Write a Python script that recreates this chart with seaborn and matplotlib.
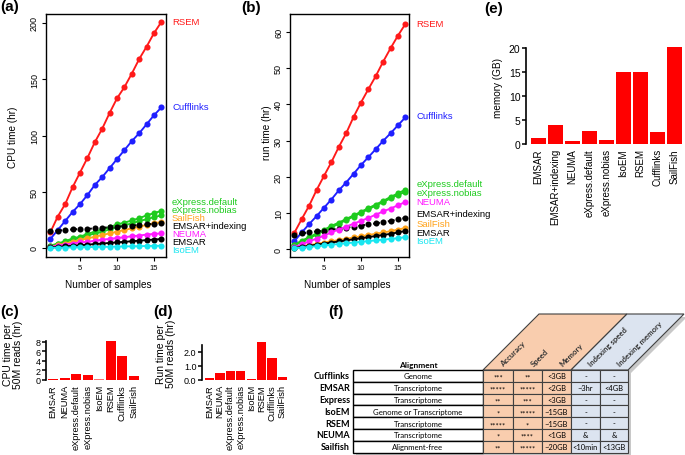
import matplotlib
matplotlib.use("Agg")
import matplotlib.pyplot as plt
import seaborn as sns
from matplotlib.patches import Rectangle, Polygon

sns.set_theme(style="ticks")
plt.rcParams["font.family"] = ["Liberation Sans", "DejaVu Sans"]
plt.rcParams.update({"axes.edgecolor": "black", "xtick.color": "black", "ytick.color": "black",
                     "text.color": "black", "axes.labelcolor": "black"})

# ---------------- data ----------------
samples = list(range(1, 17))
methods = ["RSEM", "Cufflinks", "eXpress.default", "eXpress.nobias", "SailFish",
           "EMSAR+indexing", "NEUMA", "EMSAR", "IsoEM"]

cpu_rsem = [14, 28, 39, 54, 67, 80, 94, 106, 120, 133, 143, 155, 168, 179, 191, 201]
cpu_cufflinks = [8, 16, 24, 32, 39, 47, 56, 63, 71, 79, 87, 95, 102, 110, 118, 125]
cpu_express_default = [2, 4, 6, 8.5, 10, 12.5, 14.5, 16.5, 18.5, 21, 22.5, 24.5, 26.5, 29, 31, 33]
cpu_express_nobias = [1.5, 3.5, 5, 7.5, 9, 11, 13, 14.5, 16.5, 18.5, 20, 22, 24, 25.5, 27.5, 29]
cpu_sailfish = [1, 2.5, 4, 5.5, 7, 8.5, 10, 11.5, 13, 14.5, 16, 17.5, 19, 20.5, 22, 23]
cpu_emsar_idx = [15, 15.5, 16, 16.5, 17, 17, 17.5, 18, 18.5, 19, 19.5, 20, 20.5, 21, 21.5, 22]
cpu_neuma = [1, 2, 3, 4, 5, 5.5, 6.5, 7.5, 8, 9, 9.5, 10.5, 11, 12, 12.5, 13]
cpu_emsar = [0.5, 1, 1.5, 2, 2.5, 3, 3.5, 4, 4.5, 5, 5.5, 6, 6.5, 7, 7.5, 8]
cpu_isoem = [0.1, 0.3, 0.4, 0.5, 0.6, 0.8, 0.9, 1.0, 1.1, 1.3, 1.4, 1.5, 1.6, 1.8, 1.9, 2.0]

run_rsem = [4.5, 8.3, 12, 16.3, 20.2, 24, 28.2, 32, 36.5, 40.5, 44.2, 47.8, 51.8, 55.5, 59, 62.2]
run_cufflinks = [2.2, 4.6, 6.9, 9.1, 11.4, 13.7, 16.2, 18.4, 20.8, 23.2, 25.4, 27.6, 29.9, 32.0, 34.2, 36.4]
run_express_default = [1.2, 2.3, 3.3, 4.3, 5.3, 6.4, 7.3, 8.3, 9.3, 10.3, 11.3, 12.3, 13.3, 14.4, 15.4, 16.4]
run_express_nobias = [1.0, 2.0, 3.0, 4.0, 5.0, 6.0, 7.0, 8.0, 9.0, 10.0, 11.0, 12.0, 13.0, 14.0, 15.0, 15.8]
run_sailfish = [0.4, 0.7, 1.1, 1.4, 1.8, 2.1, 2.5, 2.8, 3.2, 3.5, 3.9, 4.2, 4.6, 4.9, 5.4, 5.8]
run_emsar_idx = [4.0, 4.3, 4.6, 4.9, 5.1, 5.4, 5.6, 5.9, 6.2, 6.5, 6.8, 7.1, 7.4, 7.8, 8.2, 8.6]
run_neuma = [0.5, 1.3, 2.1, 2.9, 3.7, 4.6, 5.4, 6.2, 7.0, 7.8, 8.6, 9.5, 10.4, 11.2, 12.1, 13.0]
run_emsar = [0.3, 0.6, 0.9, 1.2, 1.5, 1.8, 2.1, 2.4, 2.7, 3.0, 3.3, 3.6, 3.9, 4.2, 4.6, 5.0]
run_isoem = [0.2, 0.4, 0.6, 0.8, 1.0, 1.2, 1.4, 1.6, 1.8, 2.0, 2.2, 2.4, 2.6, 2.8, 3.0, 3.3]

bar_methods_cd = ["EMSAR", "NEUMA", "eXpress.default", "eXpress.nobias", "IsoEM", "RSEM", "Cufflinks", "SailFish"]
cpu_per_50m = [0.3, 0.45, 1.3, 1.05, 0.15, 8.2, 5.0, 0.75]
run_per_50m = [0.15, 0.52, 0.67, 0.64, 0.1, 2.7, 1.57, 0.2]

mem_methods = ["EMSAR", "EMSAR+indexing", "NEUMA", "eXpress.default", "eXpress.nobias",
               "IsoEM", "RSEM", "Cufflinks", "SailFish"]
memory_gb = [1.2, 4.0, 0.7, 2.8, 0.75, 15.0, 15.1, 2.4, 20.2]

tbl_rows = ["Cufflinks", "EMSAR", "Express", "IsoEM", "RSEM", "NEUMA", "Sailfish"]
tbl_alignment = ["Genome", "Transcriptome", "Transcriptome", "Genome or Transcriptome",
                 "Transcriptome", "Transcriptome", "Alignment-free"]
tbl_accuracy = ["***", "*****", "**", "*", "*****", "*", "**"]
tbl_speed = ["**", "*****", "***", "*****", "*", "****", "*****"]
tbl_memory = ["<3GB", "<2GB", "<3GB", "~15GB", "~15GB", "<1GB", "~20GB"]
tbl_idx_speed = ["-", "~3hr", "-", "-", "-", "&", "<10min"]
tbl_idx_memory = ["-", "<4GB", "-", "-", "-", "&", "<13GB"]
tbl_headers = ["Accuracy", "Speed", "Memory", "Indexing speed", "Indexing memory"]

cpu = dict(zip(methods, [cpu_rsem, cpu_cufflinks, cpu_express_default, cpu_express_nobias, cpu_sailfish,
                         cpu_emsar_idx, cpu_neuma, cpu_emsar, cpu_isoem]))
run = dict(zip(methods, [run_rsem, run_cufflinks, run_express_default, run_express_nobias, run_sailfish,
                         run_emsar_idx, run_neuma, run_emsar, run_isoem]))

line_colors = {"RSEM": "#FF1A1A", "Cufflinks": "#1F1FFF", "eXpress.default": "#1ECB1E",
               "eXpress.nobias": "#1ECB1E", "SailFish": "#FFA31A", "EMSAR+indexing": "black",
               "NEUMA": "#FF1AFF", "EMSAR": "black", "IsoEM": "#19E6F0"}

# right-side label positions (data y) for panels a and b
lab_order_a = ["RSEM", "Cufflinks", "eXpress.default", "eXpress.nobias", "SailFish",
               "EMSAR+indexing", "NEUMA", "EMSAR", "IsoEM"]
lab_y_a = [201, 126, 41.5, 34.5, 27.5, 20, 12.5, 5.5, -1.5]
lab_order_b = ["RSEM", "Cufflinks", "eXpress.default", "eXpress.nobias", "NEUMA",
               "EMSAR+indexing", "SailFish", "EMSAR", "IsoEM"]
lab_y_b = [62.5, 36.8, 18.0, 15.5, 13.2, 9.7, 7.2, 4.7, 2.5]

# ---------------- figure ----------------
W, H = 685, 456
fig = plt.figure(figsize=(6.85, 4.56), dpi=100)


def box(l, t, r, b):
    return [l / W, 1 - b / H, (r - l) / W, (b - t) / H]


bg = fig.add_axes([0, 0, 1, 1])
bg.set_xlim(0, W)
bg.set_ylim(H, 0)
bg.axis("off")
bg.patch.set_alpha(0)


def line_panel(rect, data, xlim, ylim, yticks, lab_order, lab_y, lab_x):
    ax = fig.add_axes(box(*rect))
    for m in methods:
        sns.lineplot(x=samples, y=data[m], color=line_colors[m], marker="o", markersize=4.4,
                     markeredgewidth=0, linewidth=1.35,
                     linestyle=":" if m == "EMSAR+indexing" else "-", ax=ax)
    ax.set_xlim(*xlim)
    ax.set_ylim(*ylim)
    ax.set_xticks([5, 10, 15])
    ax.set_yticks(yticks)
    ax.tick_params(axis="x", labelsize=5.5, length=3, width=0.8, pad=2)
    ax.tick_params(axis="y", labelsize=6.5, length=3, width=0.8, pad=2, labelrotation=90)
    for t in ax.get_yticklabels():
        t.set_va("center")
    for s in ax.spines.values():
        s.set_linewidth(1.0)
    ax.set_xlabel("")
    ax.set_ylabel("")
    for m, y in zip(lab_order, lab_y):
        ax.text(lab_x, y, m, transform=ax.get_yaxis_transform(), color=line_colors[m],
                fontsize=6.8, va="center", ha="left", clip_on=False)
    return ax


line_panel((46, 15, 166, 258), cpu, (0.41, 16.62), (-8, 208), [0, 50, 100, 150, 200],
           lab_order_a, lab_y_a, 1.05)
line_panel((290, 15, 409, 258), run, (0.41, 16.5), (-2.2, 65), [0, 10, 20, 30, 40, 50, 60],
           lab_order_b, lab_y_b, 1.06)


def bar_panel(rect, names, vals, cols, xlim, ylim, yticks, yticklabels, ybounds, width, fsx, fsy):
    ax = fig.add_axes(box(*rect))
    sns.barplot(x=names, y=vals, hue=names, palette=cols, legend=False, saturation=1,
                width=width, linewidth=0, ax=ax)
    ax.set_xlim(*xlim)
    ax.set_ylim(*ylim)
    for s in ["top", "right", "bottom"]:
        ax.spines[s].set_visible(False)
    ax.spines["left"].set_bounds(*ybounds)
    ax.spines["left"].set_linewidth(1.2)
    ax.set_yticks(yticks)
    ax.set_yticklabels(yticklabels, fontsize=fsy)
    ax.tick_params(axis="x", length=0, pad=3, labelrotation=90, labelsize=fsx)
    ax.tick_params(axis="y", length=3, width=1.1, pad=1)
    ax.set_xlabel("")
    ax.set_ylabel("")
    ax.patch.set_alpha(0)
    return ax


bar_panel((526, 44.2, 684, 145), mem_methods, memory_gb, ["#FF0000"] * 9, (-0.72, 8.55), (0, 21),
          [0, 5, 10, 15, 20], ["0", "5", "10", "15", "20"], (0, 20), 0.86, 7, 7.5)
cols_c = ["#FF0000"] * 8
cols_c[4] = "#FF7070"
bar_panel((46, 340, 141, 381), bar_methods_cd, cpu_per_50m, cols_c, (-0.61, 7.61), (0, 8.6),
          [0, 2, 4, 6, 8], ["0", "2", "4", "6", "8"], (0, 8.2), 0.88, 6.7, 6.5)
bar_panel((202, 341.8, 289, 381), bar_methods_cd, run_per_50m, ["#FF0000"] * 8, (-0.73, 7.63), (0, 2.8),
          [0, 1, 2], ["0.0", "1.0", "2.0"], (0, 2.5), 0.88, 6.7, 6.5)

# axis labels and panel letters
bg.text(108, 285, "Number of samples", fontsize=7.2, ha="center", va="center")
bg.text(347, 285, "Number of samples", fontsize=7.2, ha="center", va="center")
bg.text(13, 137, "CPU time (hr)", fontsize=7.2, rotation=90, ha="center", va="center")
bg.text(267, 133, "run time (hr)", fontsize=7.2, rotation=90, ha="center", va="center")
bg.text(498, 88, "memory (GB)", fontsize=7.2, rotation=90, ha="center", va="center")
bg.text(13, 355, "CPU time per\n50M reads (hr)", fontsize=7.5, rotation=90, ha="center", va="center",
        linespacing=1.0)
bg.text(166, 354, "Run time per\n50M reads (hr)", fontsize=7.5, rotation=90, ha="center", va="center",
        linespacing=1.0)
for lbl, x, y in [("(a)", 10, 7), ("(b)", 251, 8), ("(e)", 494, 9), ("(c)", 10, 312),
                  ("(d)", 163, 312), ("(f)", 336, 312)]:
    bg.text(x, y, lbl, fontsize=11, fontweight="bold", ha="center", va="center")

# ---------------- table (f) ----------------
tfont = ["Lato", "DejaVu Sans"]
row_top = 371
rh = 11.8
nrows = len(tbl_rows)
al_l, al_r = 353, 483
col_edges = [483, 513, 542, 571, 600, 628]
orange = "#F9CDAE"
blue = "#DCE4F0"
slant = 56

# shadows
bg.add_patch(Rectangle((al_l + 3, row_top + 3), col_edges[-1] - al_l, nrows * rh, facecolor="#C8C8C8",
                       edgecolor="none", zorder=1))
bg.add_patch(Polygon([(col_edges[0] + 3, row_top + 3), (col_edges[-1] + 3, row_top + 3),
                      (col_edges[-1] + slant + 3, row_top - slant + 3), (col_edges[0] + slant + 3, row_top - slant + 3)],
                     closed=True, facecolor="#C8C8C8", edgecolor="none", zorder=1))

# slanted headers
bg.add_patch(Polygon([(col_edges[0], row_top), (col_edges[3], row_top),
                      (col_edges[3] + slant, row_top - slant), (col_edges[0] + slant, row_top - slant)],
                     closed=True, facecolor=orange, edgecolor="#404040", lw=0.8, zorder=2))
bg.add_patch(Polygon([(col_edges[3], row_top), (col_edges[5], row_top),
                      (col_edges[5] + slant, row_top - slant), (col_edges[3] + slant, row_top - slant)],
                     closed=True, facecolor=blue, edgecolor="#404040", lw=0.8, zorder=2))
for j, hname in enumerate(tbl_headers):
    bg.text(col_edges[j] + 19, row_top - 5, hname, rotation=45, rotation_mode="anchor", ha="left",
            va="center", fontsize=5.6, fontweight="bold", family=tfont, color="#333333", zorder=3)

bg.text((al_l + al_r) / 2, row_top - 5, "Alignment", fontsize=6, fontweight="bold", family=tfont,
        ha="center", va="center", zorder=3)

cols_vals = [tbl_accuracy, tbl_speed, tbl_memory, tbl_idx_speed, tbl_idx_memory]
for i in range(nrows):
    y = row_top + i * rh
    bg.text(al_l - 3, y + rh / 2, tbl_rows[i], fontsize=6.5, fontweight="bold", family=tfont,
            ha="right", va="center", zorder=3)
    bg.add_patch(Rectangle((al_l, y), al_r - al_l, rh, facecolor="white", edgecolor="black", lw=1.0,
                           zorder=2))
    bg.text((al_l + al_r) / 2, y + rh / 2, tbl_alignment[i], fontsize=5.6, family=tfont,
            ha="center", va="center", zorder=3)
    for j in range(5):
        fc = orange if j < 3 else blue
        bg.add_patch(Rectangle((col_edges[j], y), col_edges[j + 1] - col_edges[j], rh, facecolor=fc,
                               edgecolor="#404040", lw=0.8, zorder=2))
        val = cols_vals[j][i]
        bg.text((col_edges[j] + col_edges[j + 1]) / 2, y + rh / 2 + (1.5 if "*" in val else 0), val,
                fontsize=5.4, family=tfont, ha="center", va="center", zorder=3)

fig.savefig("out.png", dpi=100)
